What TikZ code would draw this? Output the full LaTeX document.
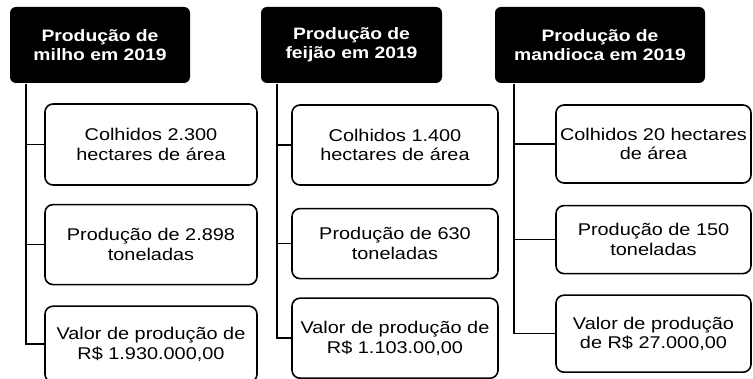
\documentclass[tikz,border=0pt]{standalone}
\usepackage{fontspec}
\setmainfont{Liberation Sans}[FakeStretch=1.17]
\usetikzlibrary{positioning}

\begin{document}
\begin{tikzpicture}[x=1pt, y=1pt, draw=black, line width=1.6pt, font=\fontsize{17}{19.5}\selectfont]
    \tikzstyle{head}=[fill=black, rounded corners=6pt, text=white, align=center, inner sep=0pt, minimum height=76pt, font=\bfseries\fontsize{16.5}{19}\selectfont]
    \tikzstyle{block}=[draw=black, fill=white, rounded corners=8pt, align=center, inner sep=0pt, line width=1.6pt]
    \tikzstyle{link}=[draw=black, line width=1.6pt]

    \useasboundingbox[fill=white] (0,0) rectangle (753,379);

	\node[head, minimum width=180pt] (hMilho) at (100,334) {Produção de\\milho em 2019};
	\node[head, minimum width=181pt] (hFeijao) at (351.5,334) {Produção de\\feijão em 2019};
	\node[head, minimum width=210pt] (hMandioca) at (600,334) {Produção de\\mandioca em 2019};

    \node[block, minimum width=212pt, minimum height=81pt] (mArea) at (151,234.5) {Colhidos 2.300\\hectares de área};
    \node[block, minimum width=212pt, minimum height=80pt, below=18pt of mArea] (mProd) {Produção de 2.898\\toneladas};
    \node[block, minimum width=212pt, minimum height=76pt, below=20pt of mProd] (mValor) {Valor de produção de\\R\$ 1.930.000,00};

    \node[block, minimum width=206pt, minimum height=80pt] (fArea) at (395,234) {Colhidos 1.400\\hectares de área};
    \node[block, minimum width=206pt, minimum height=70pt, below=22pt of fArea] (fProd) {Produção de 630\\toneladas};
    \node[block, minimum width=206pt, minimum height=80pt, below=18pt of fProd] (fValor) {Valor de produção de\\R\$ 1.103.00,00};

    \node[block, minimum width=195pt, minimum height=78pt] (dArea) at (653.5,235) {Colhidos 20 hectares\\de área};
    \node[block, minimum width=195pt, minimum height=68pt, below=21pt of dArea] (dProd) {Produção de 150\\toneladas};
    \node[block, minimum width=195pt, minimum height=77pt, below=20pt of dProd] (dValor) {Valor de produção\\de R\$ 27.000,00};

    \coordinate (tMilho) at ([xshift=17pt]hMilho.south west);
    \coordinate (tFeijao) at ([xshift=17pt]hFeijao.south west);
    \coordinate (tMandioca) at ([xshift=20pt]hMandioca.south west);

    \draw[link] (tMilho) |- (mArea.west);
    \draw[link] (tMilho) |- (mProd.west);
    \draw[link] (tMilho) |- (mValor.west);
    \draw[link] (tFeijao) |- (fArea.west);
    \draw[link] (tFeijao) |- (fProd.west);
    \draw[link] (tFeijao) |- (fValor.west);
    \draw[link] (tMandioca) |- (dArea.west);
    \draw[link] (tMandioca) |- (dProd.west);
    \draw[link] (tMandioca) |- (dValor.west);
\end{tikzpicture}
\end{document}
